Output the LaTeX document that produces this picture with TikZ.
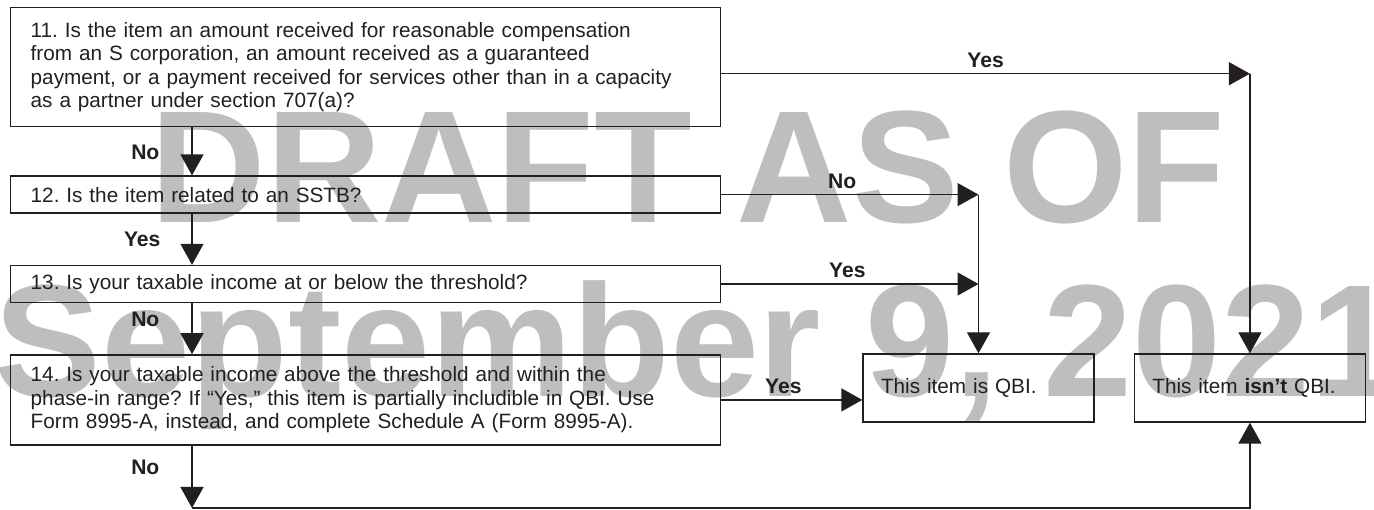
\documentclass[tikz,border=0pt]{standalone}
\usepackage{fontspec}
\setmainfont{Liberation Sans}
\usetikzlibrary{arrows.meta, positioning, calc}
\usepackage{xcolor}
\definecolor{ink}{RGB}{35,31,32}
\definecolor{wgray}{RGB}{190,190,190}
\frenchspacing

\begin{document}
\begin{tikzpicture}[
  qbox/.style={draw=ink, line width=0.8pt, text=ink, text width=13.4cm, inner xsep=0.4cm,
    align=left, font=\fontsize{11.8}{13.4}\selectfont},
  endbox/.style={draw=ink, line width=0.8pt, text=ink, text width=3.9cm, inner xsep=0.36cm,
    minimum height=1.36cm, align=left, font=\fontsize{11.8}{13.4}\selectfont},
  lbl/.style={text=ink, font=\fontsize{12}{13}\selectfont\bfseries, inner sep=3pt},
  flow/.style={draw=ink, line width=0.8pt, -{Triangle[length=4.2mm, width=4.6mm]}},
  wmark/.style={text=wgray, font=\fontsize{91}{91}\selectfont\bfseries, inner sep=0pt}
]
  \useasboundingbox (0,0) rectangle (27.48,10.2);
  % watermark behind everything
  \node[wmark, anchor=base] (wm1) at (13.76,5.74) {DRAFT AS OF};
  \node[wmark, anchor=base] (wm2) at (13.94,2.26) {September 9, 2021};

  % questions
  \node[qbox, minimum height=2.38cm, anchor=north west] (b11) at (0.2,10.06)
    {11. Is the item an amount received for reasonable compensation\\
     from an S corporation, an amount received as a guaranteed\\
     payment, or a payment received for services other than in a capacity\\
     as a partner under section 707(a)?};
  \node[qbox, minimum height=0.74cm, below=0.96cm of b11] (b12)
    {12. Is the item related to an SSTB?};
  \node[qbox, minimum height=0.74cm, below=1.02cm of b12] (b13)
    {13. Is your taxable income at or below the threshold?};
  \node[qbox, minimum height=1.8cm, below=1.02cm of b13] (b14)
    {14. Is your taxable income above the threshold and within the\\
     phase-in range? If “Yes,” this item is partially includible in QBI. Use\\
     Form 8995-A, instead, and complete Schedule A (Form 8995-A).};

  % results
  \node[endbox] (qbi) at (19.57,2.44) {This item is QBI.};
  \node[endbox, right=0.78cm of qbi] (isnt) {This item \textbf{isn’t} QBI.};

  % down the left
  \coordinate (fx) at (3.84,0);
  \coordinate (bot) at (3.84,0.04);
  \draw[flow] (b11.south -| fx) -- (b12.north -| fx);
  \draw[flow] (b12.south -| fx) -- (b13.north -| fx);
  \draw[flow] (b13.south -| fx) -- (b14.north -| fx);
  \draw[flow] (b14.south -| fx) -- (bot);
  \draw[flow] (bot) -| (isnt.south);
  \node[lbl, anchor=base east] (l11no) at (3.3,7.0) {No};
  \node[lbl, anchor=base east] (l12yes) at (3.32,5.26) {Yes};
  \node[lbl, anchor=base east] (l13no) at (3.3,3.66) {No};
  \node[lbl, anchor=base east] (l14no) at (3.3,0.7) {No};

  % across to the right
  \coordinate (y11) at ([yshift=-0.13cm]b11.east);
  \draw[flow] (y11) -- (y11 -| isnt.north)
    node[lbl, midway, above] (l11yes) {Yes};
  \draw[flow] (y11 -| isnt.north) -- (isnt.north);
  \draw[flow] (b12.east) -- (b12.east -| qbi.north)
    node[lbl, pos=0.47, above] (l12no) {No};
  \draw[flow] (b12.east -| qbi.north) -- (qbi.north);
  \draw[flow] (b13.east) -- (b13.east -| qbi.north)
    node[lbl, pos=0.49, above] (l13yes) {Yes};
  \draw[flow] (b14.east) -- (b14.east -| qbi.west)
    node[lbl, pos=0.44, above] (l14yes) {Yes};
\end{tikzpicture}
\end{document}
